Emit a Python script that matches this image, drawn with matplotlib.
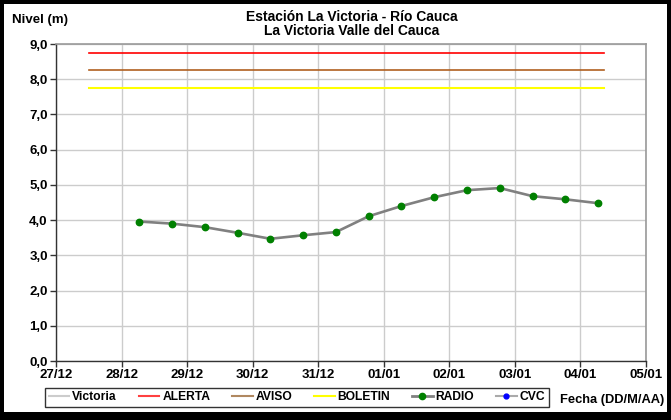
import matplotlib
matplotlib.use("Agg")
import matplotlib.pyplot as plt
from matplotlib.patches import Rectangle
from matplotlib.lines import Line2D

plt.rcParams['font.family'] = ['Liberation Sans', 'DejaVu Sans']
plt.rcParams['font.weight'] = 'bold'

# ---- data ----
tick_labels = ["27/12", "28/12", "29/12", "30/12", "31/12", "01/01", "02/01", "03/01", "04/01", "05/01"]
# measurement times as days after 27/12 00:00 (every 12 h)
radio_days = [1.27, 1.77, 2.27, 2.77, 3.27, 3.77, 4.27, 4.77, 5.27, 5.77, 6.27, 6.77, 7.27, 7.77, 8.27]
radio_level = [3.96, 3.90, 3.80, 3.64, 3.47, 3.57, 3.66, 4.11, 4.40, 4.65, 4.85, 4.91, 4.68, 4.59, 4.48]
threshold_days = [0.5, 8.36]
alerta = 8.74
aviso = 8.25
boletin = 7.75
y_ticks = [0, 1, 2, 3, 4, 5, 6, 7, 8, 9]

W, H = 671, 420
fig = plt.figure(figsize=(W / 100, H / 100), dpi=100, facecolor='black')
# white inner area (black frame)
fig.patches.append(Rectangle((4 / W, 8 / H), (W - 8) / W, (H - 4 - 8) / H,
                             transform=fig.transFigure, facecolor='white',
                             edgecolor='none', zorder=-10))

ax = fig.add_axes([56 / W, 1 - 361 / H, (646 - 56) / W, (361 - 44) / H], zorder=1)
ax.set_facecolor('white')

ax.plot(threshold_days, [alerta, alerta], color='#ff0000', lw=1.2, zorder=3)
ax.plot(threshold_days, [aviso, aviso], color='#b06020', lw=1.2, zorder=3)
ax.plot(threshold_days, [boletin, boletin], color='#ffff00', lw=1.5, zorder=3)
ax.plot(radio_days, radio_level, color='#808080', lw=1.9, solid_joinstyle='round',
        marker='o', markersize=4.6, markerfacecolor='#008000', markeredgecolor='#008000', zorder=4)

ax.set_xlim(0, len(tick_labels) - 1)
ax.set_ylim(0, 9)
ax.set_xticks(range(len(tick_labels)))
ax.set_xticklabels(tick_labels, fontsize=9.5, fontweight='bold')
ax.set_yticks(y_ticks)
ax.set_yticklabels([f"{v:.1f}".replace('.', ',') for v in y_ticks], fontsize=9.5, fontweight='bold')
ax.grid(True, color='#cccccc', lw=1.0)
ax.set_axisbelow(True)
for s in ['top', 'right']:
    ax.spines[s].set_color('#999999')
    ax.spines[s].set_linewidth(1.2)
for s in ['left', 'bottom']:
    ax.spines[s].set_color('#333333')
    ax.spines[s].set_linewidth(1.0)
ax.tick_params(axis='both', length=4, width=1, color='#333333', pad=2)

fig.text(352 / W, 1 - 17 / H, "Estación La Victoria - Río Cauca", ha='center', va='center',
         fontsize=10, fontweight='bold')
fig.text(352 / W, 1 - 31 / H, "La Victoria Valle del Cauca", ha='center', va='center',
         fontsize=10, fontweight='bold')
fig.text(12 / W, 1 - 20 / H, "Nivel (m)", ha='left', va='center', fontsize=9.5, fontweight='bold')
fig.text(612 / W, 1 - 400 / H, "Fecha (DD/M/AA)", ha='center', va='center', fontsize=9.3, fontweight='bold')

handles = [
    Line2D([], [], color='#cccccc', lw=1.5),
    Line2D([], [], color='#ff4040', lw=1.5),
    Line2D([], [], color='#b08860', lw=1.5),
    Line2D([], [], color='#ffff00', lw=1.5),
    Line2D([], [], color='#808080', lw=2.0, marker='o', markersize=4.5,
           markerfacecolor='#008000', markeredgecolor='#008000'),
    Line2D([], [], color='#aaaaaa', lw=1.5, marker='o', markersize=3.5,
           markerfacecolor='#0000ff', markeredgecolor='#0000ff'),
]
labels = ["Victoria", "ALERTA", "AVISO", "BOLETIN", "RADIO", "CVC"]
leg = fig.legend(handles, labels, loc='center', bbox_to_anchor=((44 + 550) / 2 / W, 1 - 397.5 / H),
                 ncol=6, frameon=True, fancybox=False, edgecolor='black',
                 handlelength=1.7, handletextpad=0.25, columnspacing=1.8, borderpad=0.3,
                 borderaxespad=0, prop={'weight': 'bold', 'size': 8.7})
leg.get_frame().set_linewidth(1.0)
leg.set_zorder(5)

fig.savefig("out.png", dpi=100, facecolor=fig.get_facecolor())
